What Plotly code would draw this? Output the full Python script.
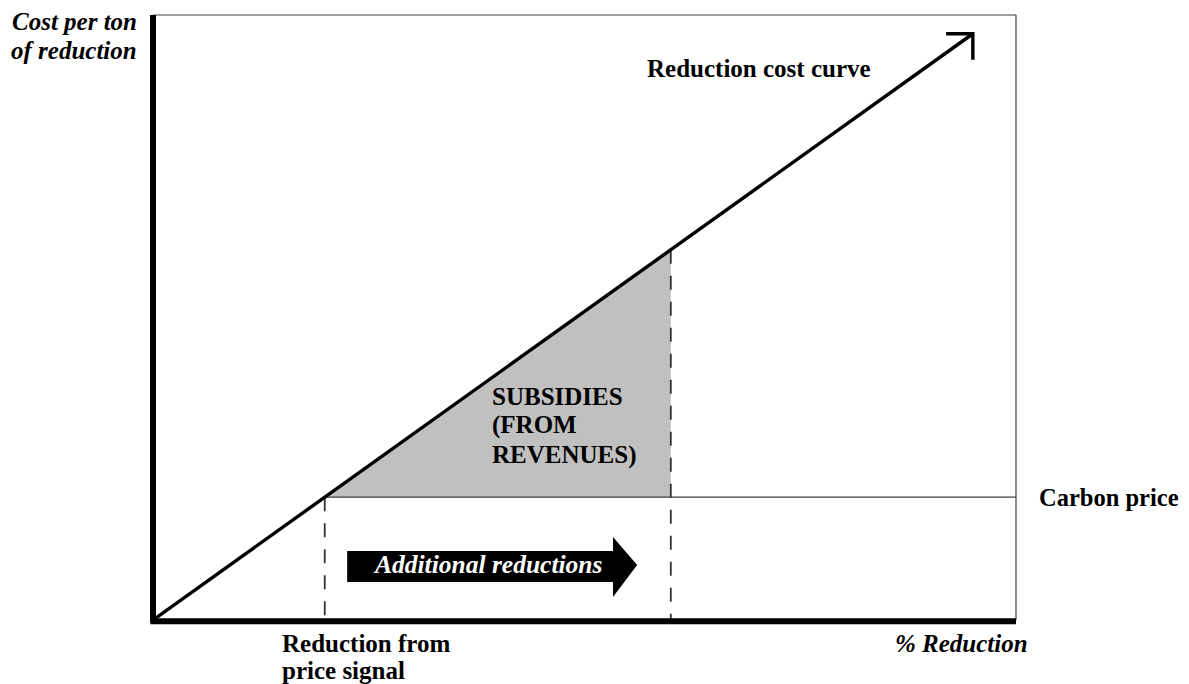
import plotly.graph_objects as go

# ---- data (arbitrary units) ----
curve_x = [0, 95]            # % reduction
curve_y = [0, 96.9]          # cost per ton
carbon_price = 20.3
price_signal_x = 19.9        # reduction achieved by price signal
additional_end_x = 60.0      # end of additional reductions
cost_at_end = 61.2           # cost on curve at additional_end_x

FONT = "Liberation Serif"
SIZE = 25
fig = go.Figure()

# subsidies triangle
fig.add_trace(go.Scatter(
    x=[price_signal_x, additional_end_x, additional_end_x, price_signal_x],
    y=[carbon_price, cost_at_end, carbon_price, carbon_price],
    fill="toself", fillcolor="#c0c0c0", mode="lines",
    line=dict(width=0), hoverinfo="skip", showlegend=False))

# carbon price line
fig.add_trace(go.Scatter(x=[price_signal_x, 100], y=[carbon_price, carbon_price],
                         mode="lines", line=dict(color="#404040", width=1.2),
                         showlegend=False, hoverinfo="skip"))

# dashed verticals
dash = dict(color="#333333", width=1.8, dash="14px,12px")
fig.add_trace(go.Scatter(x=[price_signal_x, price_signal_x], y=[carbon_price, 0],
                         mode="lines", line=dash, showlegend=False, hoverinfo="skip"))
fig.add_trace(go.Scatter(x=[additional_end_x, additional_end_x], y=[cost_at_end, 0],
                         mode="lines", line=dash, showlegend=False, hoverinfo="skip"))

# reduction cost curve
fig.add_trace(go.Scatter(x=curve_x, y=curve_y, mode="lines",
                         line=dict(color="black", width=3.4),
                         showlegend=False, hoverinfo="skip"))
# open arrow head at the tip
tx, ty = curve_x[-1], curve_y[-1]
fig.add_trace(go.Scatter(x=[tx - 3.1, tx, tx], y=[ty, ty, ty - 4.3], mode="lines",
                         line=dict(color="black", width=3.4),
                         showlegend=False, hoverinfo="skip"))

shapes = []
# block arrow "Additional reductions"
shapes.append(dict(type="path", xref="x", yref="y",
                   path="M 22.5 11.4 L 53.3 11.4 L 53.3 13.7 L 56.1 9.1 L 53.3 3.8 L 53.3 6.3 L 22.5 6.3 Z",
                   fillcolor="black", line=dict(width=0)))
# frame: thin top/right, thick left/bottom
shapes.append(dict(type="line", xref="paper", yref="paper", x0=0, x1=1, y0=1, y1=1,
                   line=dict(color="#404040", width=1.2)))
shapes.append(dict(type="line", xref="paper", yref="paper", x0=1, x1=1, y0=0, y1=1,
                   line=dict(color="#404040", width=1.2)))
shapes.append(dict(type="line", xref="paper", yref="paper", x0=0, x1=0, y0=-0.004, y1=1,
                   line=dict(color="black", width=6)))
shapes.append(dict(type="line", xref="paper", yref="paper", x0=-0.003, x1=1, y0=-0.002, y1=-0.002,
                   line=dict(color="black", width=6)))

ann = []
def t(text, x, y, xref="x", yref="y", xanchor="left", align="left", color="black", size=SIZE):
    ann.append(dict(text=text, x=x, y=y, xref=xref, yref=yref, xanchor=xanchor,
                    yanchor="middle", align=align, showarrow=False,
                    font=dict(family=FONT, size=size, color=color)))

# pixel->paper helper for the plot area (x 153..1016, y 15..620)
def py(p):
    return (620 - p) / 605

t("<b>Reduction cost curve</b>", 57.0, 91.2)
t("<b>Carbon price</b>", 1.0245, carbon_price, xref="paper", size=24.5)
t("<b>SUBSIDIES</b>", 39.1, 100 * py(396))
t("<b>(FROM</b>", 39.1, 100 * py(425))
t("<b>REVENUES)</b>", 39.1, 100 * py(455))
t("<b><i>Additional reductions</i></b>", 38.8, 9.1, xanchor="center", align="center",
  color="white", size=25.5)
t("<b>Reduction from</b>", 14.7, py(643), yref="paper")
t("<b>price signal</b>", 14.7, py(670), yref="paper")
t("<b><i>% Reduction</i></b>", 1.0165, py(643), xref="paper", yref="paper", xanchor="right", align="right")
t("<b><i>Cost per ton</i></b>", -0.016, py(22), xref="paper", yref="paper", xanchor="right", align="right")
t("<b><i>of reduction</i></b>", -0.016, py(50), xref="paper", yref="paper", xanchor="right", align="right")

fig.update_layout(
    width=1181, height=676,
    margin=dict(l=145, r=173, t=7, b=64),
    paper_bgcolor="white", plot_bgcolor="white",
    xaxis=dict(range=[0, 100], visible=False, fixedrange=True),
    yaxis=dict(range=[0, 100], visible=False, fixedrange=True),
    shapes=shapes, annotations=ann, showlegend=False,
)
fig.write_html("out.html")
